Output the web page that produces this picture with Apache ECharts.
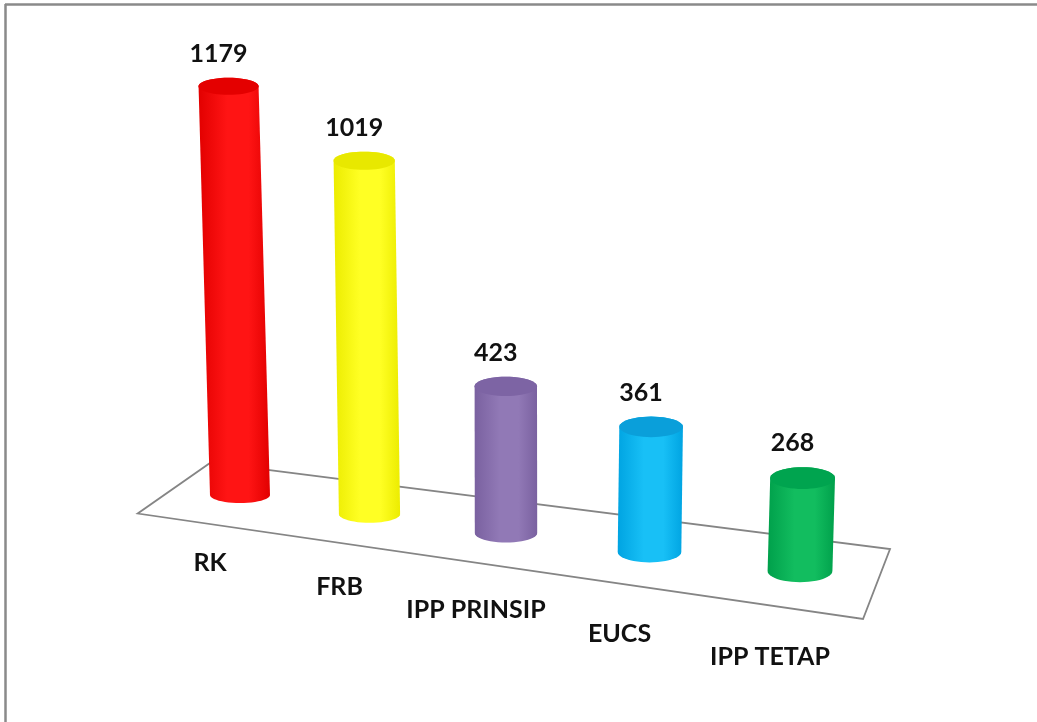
<!DOCTYPE html>
<html lang="en">
<head>
<meta charset="UTF-8">
<title>Chart</title>
<script src="https://cdn.jsdelivr.net/npm/echarts@6/dist/echarts.min.js"></script>
<style>
    html, body { margin: 0; padding: 0; background: #fff; }
    #main { width: 1037px; height: 722px; }
</style>
</head>
<body>
<div id="main"></div>
<script>
    var categories = ['RK', 'FRB', 'IPP PRINSIP', 'EUCS', 'IPP TETAP'];
    var values = [1179, 1019, 423, 361, 268];

    // body edge / body highlight / top face
    var palette = [
        ['#e20000', '#ff1414', '#e40000'],
        ['#ecec00', '#ffff24', '#e8e800'],
        ['#7a61a0', '#9179b6', '#7d64a4'],
        ['#00a4e2', '#18c0f6', '#0a9fda'],
        ['#00a04b', '#12bd5f', '#00a44f']
    ];

    // fake perspective settings
    var dropPerCat = 19;   // floor line falls this many px per category
    var warpK = 0.1;       // categories spread out a bit toward the right
    var slantK = 0.0001;   // cylinders lean toward the middle

    var chartDom = document.getElementById('main');
    var myChart = echarts.init(chartDom);

    function floorPoint(api, u) {
        var a = api.coord([0, 0]);
        var b = api.coord([categories.length - 1, 0]);
        var t = u / (categories.length - 1);
        var tw = (1 - warpK) * t + warpK * t * t;
        return [a[0] + (b[0] - a[0]) * tw, a[1] + dropPerCat * u];
    }

    function ellipsePts(cx, cy, rx, ry, a0, a1, n) {
        var pts = [];
        for (var k = 0; k <= n; k++) {
            var a = a0 + (a1 - a0) * k / n;
            pts.push([cx + rx * Math.cos(a), cy + ry * Math.sin(a)]);
        }
        return pts;
    }

    function renderFloor(params, api) {
        var last = categories.length - 1;
        var l = floorPoint(api, -0.5);
        var r = floorPoint(api, last + 0.5);
        var dl = [-73, 51], dr = [-27, 70];
        var back = -0.45, front = 0.55;
        var pts = [
            [l[0] + dl[0] * back, l[1] + dl[1] * back],
            [r[0] + dr[0] * back, r[1] + dr[1] * back],
            [r[0] + dr[0] * front, r[1] + dr[1] * front],
            [l[0] + dl[0] * front, l[1] + dl[1] * front]
        ];
        return {
            type: 'polygon',
            shape: { points: pts },
            style: { fill: '#fff', stroke: '#858585', lineWidth: 1.8 }
        };
    }

    function renderBar(params, api) {
        var i = params.dataIndex;
        var val = api.value(1);
        var base = floorPoint(api, i);
        var h = api.coord([i, 0])[1] - api.coord([i, val])[1];
        var cs = params.coordSys;
        var vpX = cs.x + cs.width / 2;
        var rx = 30 + i * 0.6;
        var ryB = 8 + i * 0.8;
        var ryT = 8.5 + i * 0.6;
        var bx = base[0], by = base[1];
        var tx = bx - (vpX - bx) * h * slantK;
        var ty = by - h;
        var c = palette[i];

        var body = ellipsePts(tx, ty, rx, ryT, Math.PI, 2 * Math.PI, 24)
            .concat(ellipsePts(bx, by, rx, ryB, 0, Math.PI, 24));

        return {
            type: 'group',
            children: [{
                type: 'polygon',
                shape: { points: body },
                style: {
                    fill: {
                        type: 'linear', x: 0, y: 0, x2: 1, y2: 0,
                        colorStops: [
                            { offset: 0, color: c[0] },
                            { offset: 0.4, color: c[1] },
                            { offset: 0.7, color: c[1] },
                            { offset: 1, color: c[0] }
                        ]
                    }
                }
            }, {
                type: 'polygon',
                shape: { points: ellipsePts(tx, ty, rx, ryT, 0, 2 * Math.PI, 48) },
                style: { fill: c[2] }
            }, {
                type: 'text',
                style: {
                    text: String(val),
                    x: tx - 10,
                    y: ty - ryT - 24,
                    align: 'center',
                    verticalAlign: 'middle',
                    font: 'bold 25px Lato',
                    fill: '#111'
                }
            }, {
                type: 'text',
                style: {
                    text: categories[i],
                    x: bx - 30,
                    y: by + 68 + 4.5 * i,
                    align: 'center',
                    verticalAlign: 'middle',
                    font: 'bold 25px Lato',
                    fill: '#111'
                }
            }]
        };
    }

    var option = {
        animation: false,
        backgroundColor: '#fff',
        grid: { left: 170, right: 167, top: 79, bottom: 227 },
        xAxis: { type: 'category', data: categories, show: false },
        yAxis: { type: 'value', min: 0, max: 1200, show: false },
        graphic: [{
            type: 'line',
            shape: { x1: 5, y1: 4.5, x2: 1037, y2: 4.5 },
            style: { stroke: '#8a8a8a', lineWidth: 2.5 }
        }, {
            type: 'line',
            shape: { x1: 5.5, y1: 4, x2: 5.5, y2: 722 },
            style: { stroke: '#8a8a8a', lineWidth: 2.5 }
        }],
        series: [{
            type: 'custom',
            renderItem: renderFloor,
            data: [[0, 0]],
            z: 1,
            silent: true
        }, {
            type: 'custom',
            renderItem: renderBar,
            encode: { x: 0, y: 1 },
            data: values.map(function (v, i) { return [i, v]; }),
            z: 2
        }]
    };

    myChart.setOption(option);
</script>
</body>
</html>
